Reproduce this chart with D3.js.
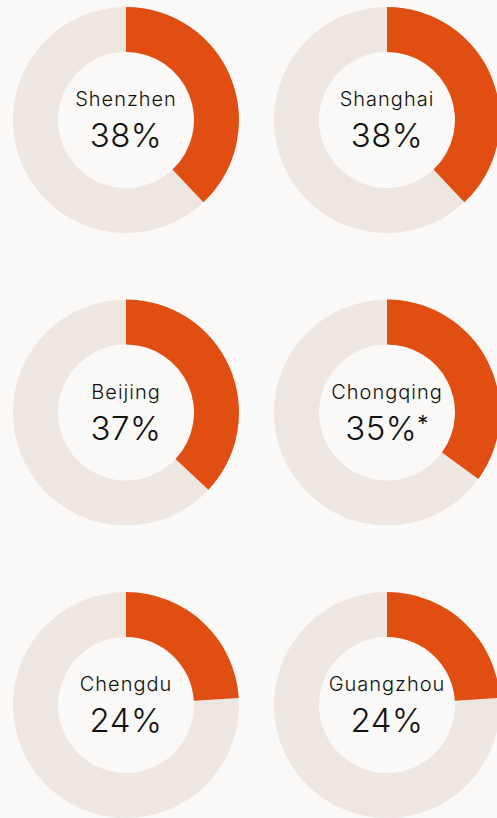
<!DOCTYPE html>
<html>
<head>
<meta charset="utf-8">
<script src="https://cdn.jsdelivr.net/npm/d3@7"></script>
<style>
  html, body { margin: 0; padding: 0; background: #faf9f7; }
  svg { display: block; }
</style>
</head>
<body>
<div id="chart"></div>
<script>
// Data
var cities = ['Shenzhen', 'Shanghai', 'Beijing', 'Chongqing', 'Chengdu', 'Guangzhou']
var shares = [38, 38, 37, 35, 24, 24]
var notes = ['', '', '', '*', '', '']

var width = 497
var height = 818

var outerRadius = 113
var innerRadius = 68

var svg = d3
  .select('#chart')
  .append('svg')
  .attr('width', width)
  .attr('height', height)

// grid positions
var xPositionScale = d3.scaleLinear().domain([0, 1]).range([126, 387])
var yPositionScale = d3.scaleLinear().domain([0, 2]).range([120, 705])

var angleScale = d3.scaleLinear().domain([0, 100]).range([0, Math.PI * 2])

var arc = d3
  .arc()
  .innerRadius(innerRadius)
  .outerRadius(outerRadius)

var datapoints = cities.map((d, i) => ({ city: d, share: shares[i], note: notes[i] }))

var groups = svg
  .selectAll('.donut')
  .data(datapoints)
  .enter()
  .append('g')
  .attr('class', 'donut')
  .attr('transform', (d, i) => `translate(${xPositionScale(i % 2)}, ${yPositionScale(Math.floor(i / 2))})`)

// background ring
groups
  .append('path')
  .attr('d', arc({ startAngle: 0, endAngle: Math.PI * 2 }))
  .attr('fill', '#ede6e1')

// share arc
groups
  .append('path')
  .attr('d', d => arc({ startAngle: 0, endAngle: angleScale(d.share) }))
  .attr('fill', '#e14e12')

// city label
groups
  .append('text')
  .text(d => d.city)
  .attr('x', 0)
  .attr('y', -14)
  .attr('text-anchor', 'middle')
  .attr('font-family', 'Inter, sans-serif')
  .attr('font-weight', 300)
  .attr('font-size', 20)
  .attr('letter-spacing', 1)
  .attr('fill', '#111')

// percentage
var pct = groups
  .append('text')
  .attr('x', 0)
  .attr('y', 27)
  .attr('text-anchor', 'middle')
  .attr('font-family', 'Inter, sans-serif')
  .attr('font-weight', 300)
  .attr('font-size', 33)
  .attr('letter-spacing', 0.5)
  .attr('fill', '#111')

pct.append('tspan').text(d => d.share + '%')
pct
  .append('tspan')
  .text(d => d.note)
  .attr('font-size', 22)
  .attr('font-weight', 400)
  .attr('dy', -9)
</script>
</body>
</html>
